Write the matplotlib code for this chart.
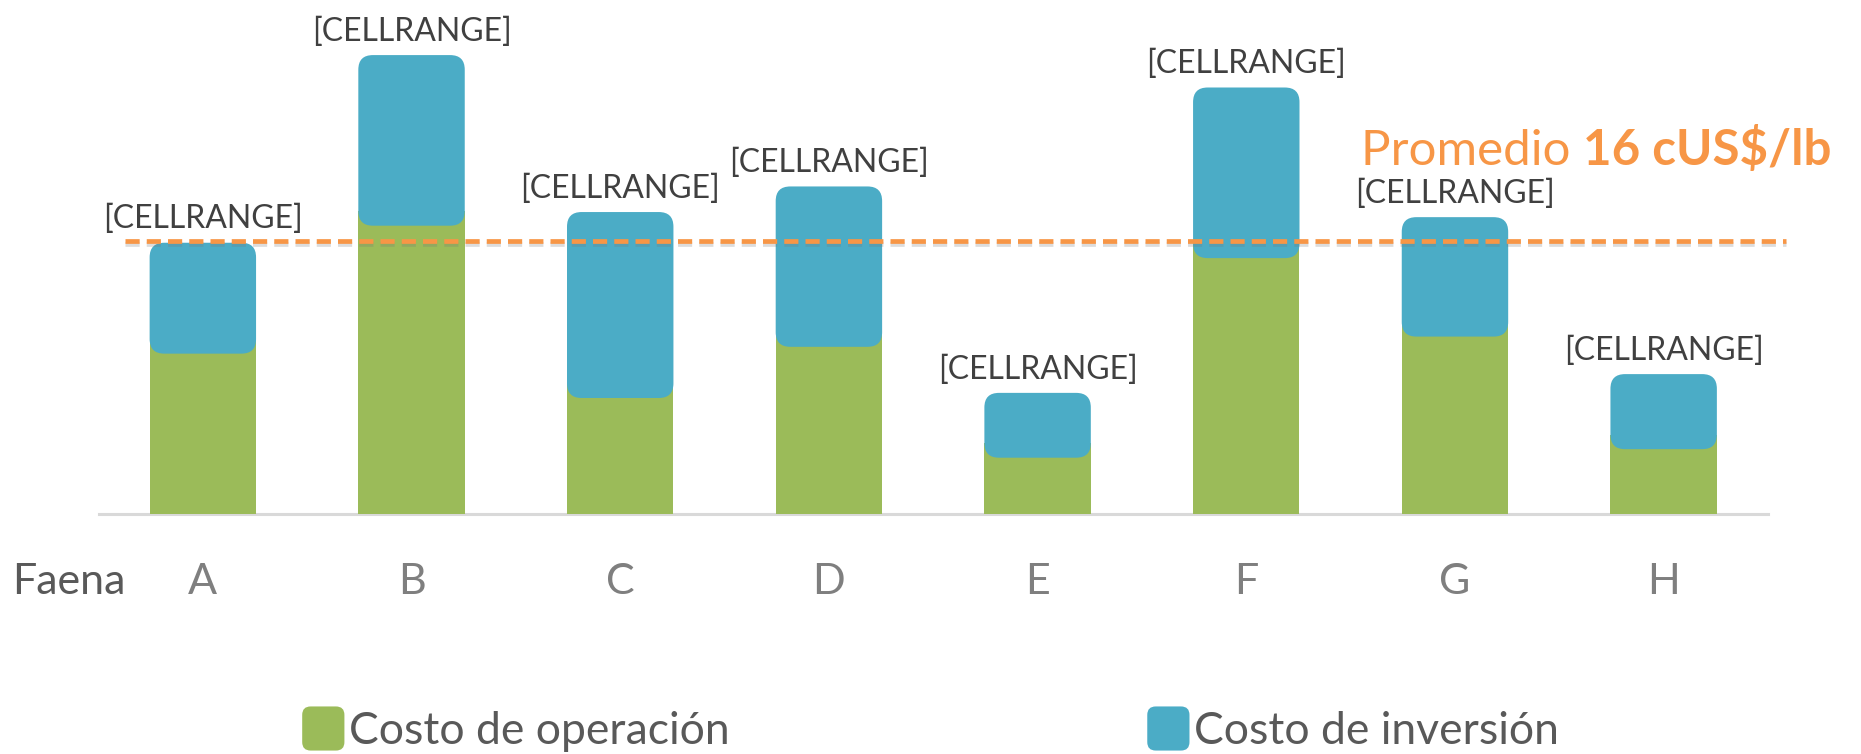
import matplotlib
matplotlib.use("Agg")
import matplotlib.pyplot as plt
from matplotlib.patches import FancyBboxPatch, Patch
from matplotlib.legend_handler import HandlerBase
import matplotlib.patheffects as pe

# ---- data ----
categories = ["A", "B", "C", "D", "E", "F", "G", "H"]
costo_operacion = [9.4, 16.9, 6.8, 9.8, 3.3, 15.0, 10.4, 3.8]
costo_inversion = [6.5, 10.0, 10.9, 9.4, 3.8, 10.0, 7.0, 4.4]
promedio = 16
bar_labels = ["[CELLRANGE]"] * 8
series_names = ["Costo de operación", "Costo de inversión"]

GREEN = "#9BBB59"
BLUE = "#4BACC6"
ORANGE = "#F79646"
FONT = ["Lato", "DejaVu Sans"]
plt.rcParams["font.family"] = FONT

W, H = 1861, 754
fig = plt.figure(figsize=(W / 100, H / 100), dpi=100)
ax_left, ax_right = 98.5, 1768
ax_base, px_per_unit = 514, 17.06
ylim_top = 30
ax = fig.add_axes([ax_left / W, (H - ax_base) / H, (ax_right - ax_left) / W,
                   ylim_top * px_per_unit / H])
ax.set_xlim(-0.5, len(categories) - 0.5)
ax.set_ylim(0, ylim_top)

x = list(range(len(categories)))
bw = 0.51
g = ax.bar(x, costo_operacion, width=bw, color=GREEN, zorder=2)
tot = [a + b for a, b in zip(costo_operacion, costo_inversion)]
b = ax.bar(x, costo_inversion, bottom=costo_operacion, width=bw, color=BLUE, zorder=3)

# rounded corners for the investment segments
fig.canvas.draw()
p0 = ax.transData.transform((0, 0))
p1 = ax.transData.transform((1, 1))
aspect = (p1[0] - p0[0]) / (p1[1] - p0[1])
r = 0.07
for rect in b.patches:
    xx, yy = rect.get_x(), rect.get_y()
    ww, hh = rect.get_width(), rect.get_height()
    rect.remove()
    fb = FancyBboxPatch((xx, yy), ww, hh,
                        boxstyle=f"round,pad=0,rounding_size={r}",
                        mutation_aspect=aspect, facecolor=BLUE,
                        edgecolor="none", zorder=3)
    ax.add_patch(fb)
for rect in g.patches:
    rect.set_height(rect.get_height() + r * aspect)

# data labels
for xi, t, lab in zip(x, tot, bar_labels):
    ax.annotate(lab, (xi, t), xytext=(0, 6), textcoords="offset points",
                ha="center", va="bottom", fontsize=23, color="#404040")

# average line
ln = ax.axhline(promedio, xmin=0.016, xmax=1.011, color=ORANGE, lw=3.4,
                clip_on=False, zorder=4)
ln.set_dashes((3.0, 1.5))
ln.set_path_effects([pe.SimpleLineShadow(offset=(0, -2), shadow_color="#777777",
                                         alpha=0.25), pe.Normal()])

t1 = fig.text(1361 / W, 1 - 151 / H, "Promedio ", fontsize=35.5, color=ORANGE,
              ha="left", va="center")
fig.canvas.draw()
ax.annotate("16 cUS$/lb", xy=(1, 0), xycoords=t1, ha="left", va="bottom",
            fontsize=35.5, color=ORANGE, fontweight="bold", annotation_clip=False)

# axes styling
for s in ["top", "right", "left"]:
    ax.spines[s].set_visible(False)
ax.spines["bottom"].set_color("#D9D9D9")
ax.spines["bottom"].set_linewidth(2.2)
ax.spines["bottom"].set_zorder(1)
ax.set_yticks([])
ax.set_xticks(x, categories)
ax.tick_params(axis="x", length=0, pad=35, labelsize=31, labelcolor="#7F7F7F")

fig.text(12 / W, 1 - 582 / H, "Faena", fontsize=31, color="#595959",
         ha="left", va="center")


class RoundHandler(HandlerBase):
    def create_artists(self, legend, orig_handle, xdescent, ydescent,
                       width, height, fontsize, trans):
        p = FancyBboxPatch((-xdescent, -ydescent), width, height,
                           boxstyle=f"round,pad=0,rounding_size={0.2 * width}",
                           facecolor=orig_handle.get_facecolor(),
                           edgecolor="none", transform=trans)
        return [p]


handles = [Patch(facecolor=GREEN), Patch(facecolor=BLUE)]
leg = fig.legend(handles, series_names, loc="center",
                 bbox_to_anchor=(0.5, 1 - 729 / H), ncol=2, frameon=False,
                 fontsize=32, labelcolor="#595959", handlelength=0.95,
                 handleheight=1.15, handletextpad=0.1, columnspacing=9.4,
                 handler_map={Patch: RoundHandler()})

fig.savefig("out.png", dpi=100)
